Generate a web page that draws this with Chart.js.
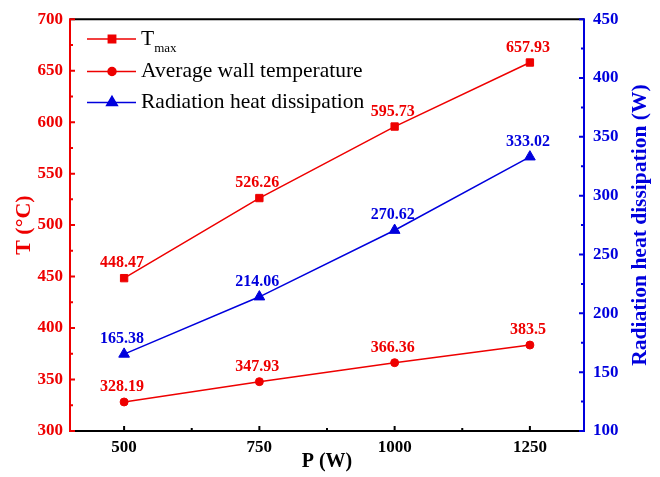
<!DOCTYPE html>
<html>
<head>
<meta charset="utf-8">
<script src="https://cdn.jsdelivr.net/npm/chart.js@4/dist/chart.umd.min.js"></script>
<style>
	body { margin: 0; background: #fff; }
	#wrap { width: 660px; height: 477px; }
</style>
</head>
<body>
<div id="wrap"><canvas id="powerChart" width="660" height="477"></canvas></div>
<script>
const powers = [500, 750, 1000, 1250];
const tMax = [448.47, 526.26, 595.73, 657.93];
const wallTemp = [328.19, 347.93, 366.36, 383.5];
const radiation = [165.38, 214.06, 270.62, 333.02];

const RED = '#ee0000';
const BLUE = '#0000dd';
const SERIF = '"Liberation Serif", "Times New Roman", serif';

const toPoints = (vals) => vals.map((v, i) => ({ x: powers[i], y: v }));

// inward ticks, axis frame, value labels, right-hand title and the legend
const framePlugin = {
	id: 'frame',
	afterDatasetsDraw(chart) {
		const ctx = chart.ctx;
		const a = chart.chartArea;
		const sx = chart.scales.x, yl = chart.scales.y, yr = chart.scales.y2;
		ctx.save();
		ctx.lineWidth = 2;

		// top and bottom frame
		ctx.strokeStyle = '#000';
		ctx.beginPath();
		ctx.moveTo(a.left, a.top); ctx.lineTo(a.right, a.top);
		ctx.moveTo(a.left, a.bottom); ctx.lineTo(a.right, a.bottom);
		ctx.stroke();
		ctx.beginPath();
		for (let v = 500; v <= 1250; v += 125) {
			const px = sx.getPixelForValue(v);
			const len = (v - 500) % 250 === 0 ? 5 : 3;
			ctx.moveTo(px, a.bottom); ctx.lineTo(px, a.bottom - len);
		}
		ctx.stroke();

		// left axis
		ctx.strokeStyle = RED;
		ctx.beginPath();
		ctx.moveTo(a.left, a.top - 1); ctx.lineTo(a.left, a.bottom + 1);
		for (let v = 300; v <= 700; v += 25) {
			const py = yl.getPixelForValue(v);
			const len = v % 50 === 0 ? 5 : 3;
			ctx.moveTo(a.left, py); ctx.lineTo(a.left + len, py);
		}
		ctx.stroke();

		// right axis
		ctx.strokeStyle = BLUE;
		ctx.beginPath();
		ctx.moveTo(a.right, a.top - 1); ctx.lineTo(a.right, a.bottom + 1);
		for (let v = 100; v <= 450; v += 25) {
			const py = yr.getPixelForValue(v);
			const len = v % 50 === 0 ? 5 : 3;
			ctx.moveTo(a.right, py); ctx.lineTo(a.right - len, py);
		}
		ctx.stroke();

		// right title reads bottom-to-top like the left one
		ctx.save();
		ctx.translate(640, (a.top + a.bottom) / 2);
		ctx.rotate(-Math.PI / 2);
		ctx.fillStyle = BLUE;
		ctx.font = 'bold 21.5px ' + SERIF;
		ctx.textAlign = 'center';
		ctx.textBaseline = 'middle';
		ctx.fillText('Radiation heat dissipation (W)', 0, 0);
		ctx.restore();

		// value labels above each point
		ctx.font = 'bold 16px ' + SERIF;
		ctx.textAlign = 'center';
		ctx.textBaseline = 'alphabetic';
		chart.data.datasets.forEach((ds, di) => {
			const meta = chart.getDatasetMeta(di);
			ctx.fillStyle = ds.borderColor;
			meta.data.forEach((pt, i) => {
				ctx.fillText(String(ds.data[i].y), pt.x - 2, pt.y - 11);
			});
		});

		// legend
		const rows = [
			{ y: 39, color: RED, style: 'rect', r: 5.2, text: 'T', sub: 'max' },
			{ y: 71.5, color: RED, style: 'circle', r: 4, text: 'Average wall temperature' },
			{ y: 102.5, color: BLUE, style: 'triangle', r: 6.2, text: 'Radiation heat dissipation' }
		];
		rows.forEach(row => {
			ctx.strokeStyle = row.color;
			ctx.lineWidth = 1.5;
			ctx.beginPath();
			ctx.moveTo(87, row.y); ctx.lineTo(136, row.y);
			ctx.stroke();
			Chart.helpers.drawPoint(ctx, {
				pointStyle: row.style, radius: row.r, borderWidth: 1
			}, 112, row.y);
			ctx.fillStyle = row.color;
			ctx.fill();
			ctx.fillStyle = '#000';
			ctx.textAlign = 'left';
			ctx.textBaseline = 'middle';
			ctx.font = '21.5px ' + SERIF;
			ctx.fillText(row.text, 141, row.y);
			if (row.sub) {
				const w = ctx.measureText(row.text).width;
				ctx.font = '13px ' + SERIF;
				ctx.fillText(row.sub, 141 + w, row.y + 10);
			}
		});
		ctx.restore();
	}
};

const tickFont = { family: SERIF, size: 17, weight: 'bold' };

new Chart(document.getElementById('powerChart'), {
	type: 'line',
	data: {
		datasets: [
			{
				label: 'Tmax',
				data: toPoints(tMax),
				yAxisID: 'y',
				borderColor: RED,
				backgroundColor: RED,
				borderWidth: 1.5,
				pointStyle: 'rect',
				pointRadius: 5.2,
				pointBorderWidth: 1
			},
			{
				label: 'Average wall temperature',
				data: toPoints(wallTemp),
				yAxisID: 'y',
				borderColor: RED,
				backgroundColor: RED,
				borderWidth: 1.5,
				pointStyle: 'circle',
				pointRadius: 4,
				pointBorderWidth: 1
			},
			{
				label: 'Radiation heat dissipation',
				data: toPoints(radiation),
				yAxisID: 'y2',
				borderColor: BLUE,
				backgroundColor: BLUE,
				borderWidth: 1.5,
				pointStyle: 'triangle',
				pointRadius: 6.2,
				pointBorderWidth: 1
			}
		]
	},
	options: {
		responsive: false,
		animation: false,
		layout: { padding: { top: 16, left: 0, right: 0, bottom: 0 } },
		plugins: {
			legend: { display: false },
			tooltip: { enabled: false }
		},
		scales: {
			x: {
				type: 'linear',
				min: 400,
				max: 1350,
				afterBuildTicks: (s) => { s.ticks = powers.map(v => ({ value: v })); },
				afterFit: (s) => { s.height = 46; },
				grid: { display: false, drawTicks: false },
				border: { display: false },
				ticks: { color: '#000', font: tickFont, padding: 6, callback: (v) => String(v) },
				title: {
					display: true, text: 'P (W)', color: '#000',
					font: { family: SERIF, size: 20, weight: 'bold' },
					padding: { top: 0, bottom: 3 }
				}
			},
			y: {
				position: 'left',
				min: 300,
				max: 700,
				afterFit: (s) => { s.width = 70; },
				grid: { display: false, drawTicks: false },
				border: { display: false },
				ticks: { stepSize: 50, color: RED, font: tickFont, padding: 7 },
				title: {
					display: true, text: 'T (°C)', color: RED,
					font: { family: SERIF, size: 22, weight: 'bold' },
					padding: { top: 11, bottom: 0 }
				}
			},
			y2: {
				position: 'right',
				min: 100,
				max: 450,
				afterFit: (s) => { s.width = 76; },
				grid: { display: false, drawTicks: false },
				border: { display: false },
				ticks: { stepSize: 50, color: BLUE, font: tickFont, padding: 9 }
			}
		}
	},
	plugins: [framePlugin]
});
</script>
</body>
</html>
